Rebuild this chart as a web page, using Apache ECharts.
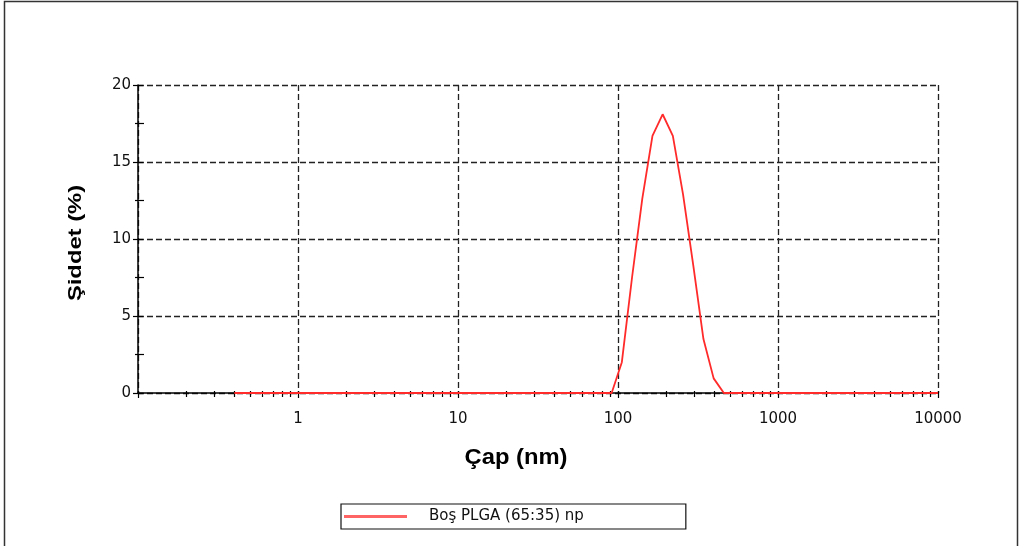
<!DOCTYPE html>
<html>
<head>
<meta charset="utf-8">
<script src="https://cdn.jsdelivr.net/npm/echarts@6/dist/echarts.min.js"></script>
<style>
  html, body { margin: 0; padding: 0; background: #fff; }
  #chart { width: 1021px; height: 546px; }
</style>
</head>
<body>
<div id="chart"></div>
<script>
// Size classes (nm), log-spaced from 0.4 to 10000
const sizes = [
  0.4, 0.4632, 0.5365, 0.6213, 0.7195, 0.8332, 0.9649,
  1.117, 1.294, 1.499, 1.736, 2.010, 2.328, 2.696, 3.122, 3.615, 4.187, 4.849, 5.615, 6.503, 7.531, 8.721,
  10.10, 11.70, 13.54, 15.69, 18.17, 21.04, 24.36, 28.21, 32.67, 37.84, 43.82, 50.75, 58.77, 68.06, 78.82,
  91.28, 105.7, 122.4, 141.8, 164.2, 190.1, 220.2, 255.0, 295.3, 342.0, 396.1, 458.7, 531.2, 615.1, 712.4, 825.0, 955.4,
  1106, 1281, 1484, 1718, 1990, 2305, 2669, 3091, 3580, 4145, 4801, 5560, 6439, 7456, 8635, 10000
];
// Intensity (%) for each size class
const intensity = [
  0, 0, 0, 0, 0, 0, 0,
  0, 0, 0, 0, 0, 0, 0, 0, 0, 0, 0, 0, 0, 0, 0,
  0, 0, 0, 0, 0, 0, 0, 0, 0, 0, 0, 0, 0, 0, 0,
  0, 2.0, 7.5, 12.6, 16.7, 18.1, 16.7, 12.9, 8.3, 3.5, 0.95, 0, 0, 0, 0, 0, 0,
  0, 0, 0, 0, 0, 0, 0, 0, 0, 0, 0, 0, 0, 0, 0, 0
];
const seriesName = 'Boş PLGA (65:35) np';
const xAxisTitle = 'Çap (nm)';
const yAxisTitle = 'Şiddet (%)';

// Tick positions on the diameter axis
const xDecades = [0.1, 1, 10, 100, 1000, 10000];
const xLabelValues = [1, 10, 100, 1000, 10000];
const xLabelTexts = ['1', '10', '100', '1000', '10000'];
const xMinorValues = [
  0.2, 0.3, 0.4, 0.5, 0.6, 0.7, 0.8, 0.9,
  2, 3, 4, 5, 6, 7, 8, 9,
  20, 30, 40, 50, 60, 70, 80, 90,
  200, 300, 400, 500, 600, 700, 800, 900,
  2000, 3000, 4000, 5000, 6000, 7000, 8000, 9000
];
const yLabelValues = [0, 5, 10, 15, 20];
const yLabelTexts = ['0', '5', '10', '15', '20'];

const GRID = { left: 138, right: 83, top: 85, bottom: 153 };
const plotW = 1021 - GRID.left - GRID.right;
const plotH = 546 - GRID.top - GRID.bottom;

const ink = '#111';
const tickFont = { fontFamily: 'DejaVu Sans', fontSize: 15, color: ink };
const dashed = { color: '#222', width: 1.3, type: [6, 3] };
const tickLine = { color: '#000', width: 1.2 };
const logRange = { type: 'log', logBase: 10, min: 0.1, max: 10000 };

const chart = echarts.init(document.getElementById('chart'), null, { renderer: 'canvas' });

chart.setOption({
  animation: false,
  backgroundColor: '#fff',
  grid: Object.assign({ containLabel: false }, GRID),
  legend: {
    left: 341, top: 504,
    padding: [5, 102, 5, 3],
    borderColor: '#111', borderWidth: 1.2,
    itemWidth: 63, itemHeight: 3,
    icon: 'rect',
    itemStyle: { color: '#ff6464', borderWidth: 0 },
    textStyle: { fontFamily: 'DejaVu Sans', fontSize: 15, color: ink, padding: [0, 0, 0, 17] },
    data: [seriesName]
  },
  xAxis: [
    {
      // main diameter axis: labels, decade ticks and dashed grid
      ...logRange, position: 'bottom',
      axisLine: { show: true, onZero: false, lineStyle: { color: '#000', width: 1.5 } },
      axisTick: { show: true, customValues: xDecades, length: 5, lineStyle: tickLine },
      axisLabel: {
        customValues: xLabelValues, margin: 19, ...tickFont,
        formatter: v => xLabelTexts[xLabelValues.indexOf(+v)] ?? ''
      },
      splitLine: { show: true, lineStyle: dashed },
      minorTick: { show: false }
    },
    {
      // minor ticks below the axis line
      ...logRange, position: 'bottom',
      axisLine: { show: false, onZero: false },
      axisTick: { show: true, customValues: xMinorValues, length: 4, lineStyle: tickLine },
      axisLabel: { show: false },
      splitLine: { show: false }
    },
    {
      // upper half of the crossing ticks on the bottom axis
      ...logRange, position: 'top', offset: -plotH,
      axisLine: { show: false, onZero: false },
      axisTick: { show: true, customValues: xDecades.concat(xMinorValues), length: 2, lineStyle: tickLine },
      axisLabel: { show: false },
      splitLine: { show: false }
    }
  ],
  yAxis: [
    {
      type: 'value', min: 0, max: 20, interval: 5, position: 'left',
      axisLine: { show: true, onZero: false, lineStyle: { color: '#000', width: 1.5 } },
      axisTick: { show: true, length: 5, lineStyle: tickLine },
      minorTick: { show: true, splitNumber: 2, length: 3, lineStyle: tickLine },
      axisLabel: {
        margin: 7, ...tickFont,
        formatter: v => yLabelTexts[yLabelValues.indexOf(+v)] ?? ''
      },
      splitLine: { show: true, lineStyle: dashed }
    },
    {
      // right half of the crossing ticks on the left axis
      type: 'value', min: 0, max: 20, interval: 5, position: 'right', offset: -plotW,
      axisLine: { show: false, onZero: false },
      axisTick: { show: true, length: 5, lineStyle: tickLine },
      minorTick: { show: true, splitNumber: 2, length: 6, lineStyle: tickLine },
      axisLabel: { show: false },
      splitLine: { show: false }
    }
  ],
  series: [
    {
      name: seriesName,
      type: 'line',
      xAxisIndex: 0, yAxisIndex: 0,
      data: sizes.map((s, i) => [s, intensity[i]]),
      showSymbol: false, symbol: 'none',
      lineStyle: { color: '#ff2a2a', width: 1.8 },
      itemStyle: { color: '#ff2a2a' },
      z: 5
    }
  ],
  graphic: [
    {
      type: 'rect', silent: true, z: 0,
      shape: { x: 4.5, y: 1.5, width: 1013, height: 600 },
      style: { fill: 'none', stroke: '#333', lineWidth: 1.5 }
    },
    {
      type: 'text', silent: true,
      x: 516, y: 458, scaleX: 1.08,
      style: { text: xAxisTitle, font: 'bold 22px "Liberation Sans", Arial, sans-serif', fill: '#000', align: 'center', verticalAlign: 'middle' }
    },
    {
      type: 'text', silent: true,
      x: 76, y: 243, rotation: Math.PI / 2, scaleX: 1.32,
      style: { text: yAxisTitle, font: 'bold 18px "Liberation Sans", Arial, sans-serif', fill: '#000', align: 'center', verticalAlign: 'middle' }
    }
  ]
});
</script>
</body>
</html>
